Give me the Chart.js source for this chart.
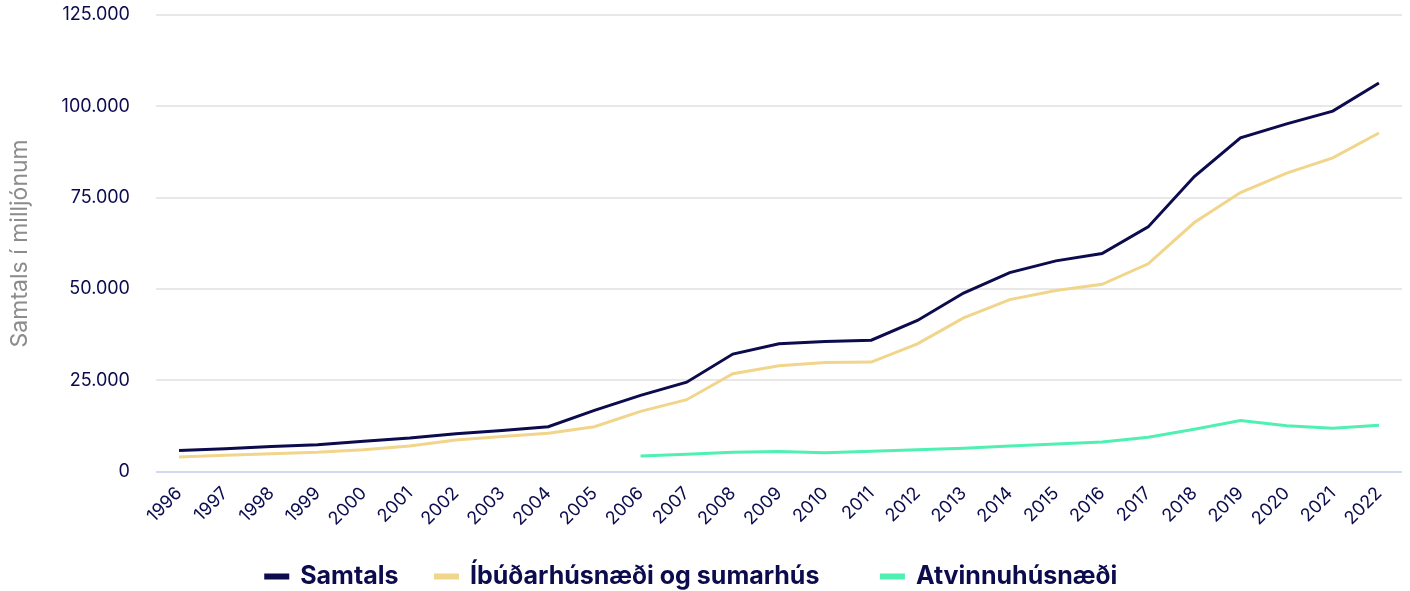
<!DOCTYPE html>
<html>
<head>
<meta charset="utf-8">
<script src="https://cdn.jsdelivr.net/npm/chart.js@4"></script>
<style>
  body { margin: 0; background: #fff; }
  #wrap { width: 1410px; height: 591px; }
</style>
</head>
<body>
<div id="wrap"><canvas id="chart" width="1410" height="591"></canvas></div>
<script>
// years on the x axis
const years = ['1996','1997','1998','1999','2000','2001','2002','2003','2004','2005','2006','2007','2008','2009','2010','2011','2012','2013','2014','2015','2016','2017','2018','2019','2020','2021','2022'];

// values, in millions
const samtals = [5800, 6300, 6900, 7400, 8300, 9200, 10400, 11300, 12300, 16800, 20900, 24500, 32200, 35000, 35600, 36000, 41400, 48900, 54500, 57700, 59700, 67000, 80800, 91400, 95200, 98700, 106400];
const ibudar = [4000, 4500, 4900, 5300, 6000, 7000, 8700, 9600, 10500, 12300, 16500, 19700, 26800, 29000, 29900, 30000, 35000, 42100, 47100, 49600, 51300, 56900, 68200, 76400, 81700, 85900, 92700];
const atvinnu = [null, null, null, null, null, null, null, null, null, null, 4300, 4800, 5300, 5500, 5200, 5600, 6000, 6400, 7000, 7600, 8100, 9400, 11600, 14000, 12600, 11900, 12700];

const yTicks = [0, 25000, 50000, 75000, 100000, 125000];

const navy = '#0b0b4d';

function fmt(v) {
    return v.toString().replace(/\B(?=(\d{3})+(?!\d))/g, '.');
}

// extra space after each legend entry so the items sit apart like the original
const legendGaps = ['\u2003', '\u2003\u2003', '\u2003'];

const ctx = document.getElementById('chart').getContext('2d');
new Chart(ctx, {
    type: 'line',
    data: {
        labels: years,
        datasets: [
            { label: 'Samtals', data: samtals, borderColor: navy, backgroundColor: navy },
            { label: 'Íbúðarhúsnæði og sumarhús', data: ibudar, borderColor: '#f0d58a', backgroundColor: '#f0d58a' },
            { label: 'Atvinnuhúsnæði', data: atvinnu, borderColor: '#4ff0b2', backgroundColor: '#4ff0b2' }
        ]
    },
    options: {
        responsive: false,
        animation: false,
        elements: {
            line: { borderWidth: 3, tension: 0 },
            point: { radius: 0 }
        },
        layout: { padding: { left: 6, right: 8, top: 15, bottom: -8 } },
        plugins: {
            tooltip: { enabled: false },
            legend: {
                position: 'bottom',
                labels: {
                    color: navy,
                    font: { family: 'Inter', size: 25, weight: 'bold' },
                    boxWidth: 22,
                    boxHeight: 3,
                    padding: 12,
                    generateLabels: function (chart) {
                        const items = Chart.defaults.plugins.legend.labels.generateLabels(chart);
                        items.forEach((it, i) => { it.text = it.text + legendGaps[i]; });
                        return items;
                    }
                }
            }
        },
        scales: {
            x: {
                offset: true,
                grid: { display: false },
                border: { display: false },
                afterFit: function (axis) { axis.height += 19; },
                ticks: {
                    color: navy,
                    font: { family: 'Inter', size: 18 },
                    maxRotation: 45,
                    minRotation: 45,
                    autoSkip: false,
                    padding: 3
                }
            },
            y: {
                min: 0,
                max: 125000,
                afterBuildTicks: function (axis) {
                    axis.ticks = yTicks.map(v => ({ value: v }));
                },
                grid: {
                    drawTicks: true,
                    tickLength: 23,
                    tickColor: 'rgba(0,0,0,0)',
                    lineWidth: 2,
                    color: function (c) { return c.tick && c.tick.value === 0 ? '#cfd9f2' : '#e8e8e8'; }
                },
                border: { display: false },
                ticks: {
                    color: navy,
                    font: { family: 'Inter', size: 18 },
                    padding: 3,
                    callback: function (v) { return fmt(v); }
                },
                title: {
                    display: true,
                    text: 'Samtals í milljónum',
                    color: '#8c8c8c',
                    font: { family: 'Inter', size: 23 },
                    padding: { top: 0, bottom: 25 }
                }
            }
        }
    }
});
</script>
</body>
</html>
